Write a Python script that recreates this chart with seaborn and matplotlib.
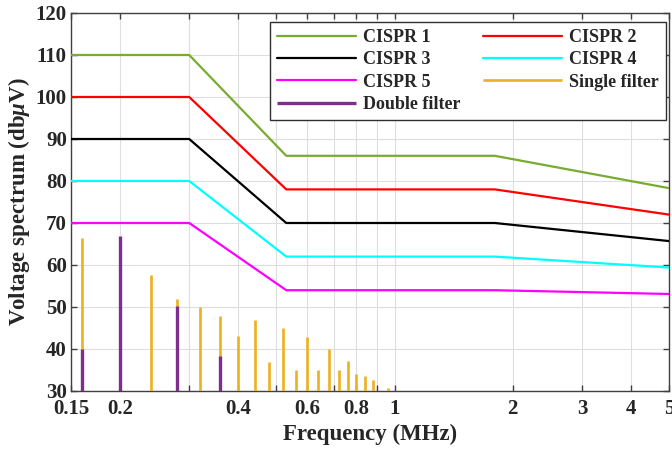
import numpy as np
import pandas as pd
import matplotlib
matplotlib.use("Agg")
import matplotlib.pyplot as plt
import seaborn as sns

# ---------------- data ----------------
limit_freq = [0.15, 0.30, 0.53, 1.8, 5.0]          # MHz
cispr1 = [110, 110, 86, 86, 78.3]
cispr2 = [100, 100, 78, 78, 72.0]
cispr3 = [90, 90, 70, 70, 65.7]
cispr4 = [80, 80, 62, 62, 59.4]
cispr5 = [70, 70, 54, 54, 53.1]

single_freq = [0.16, 0.20, 0.24, 0.28, 0.32, 0.36, 0.40, 0.44, 0.48, 0.52,
               0.56, 0.60, 0.64, 0.68, 0.72, 0.76, 0.80, 0.84, 0.88, 0.96]
single_amp = [66.5, 66.0, 57.6, 51.8, 50.1, 47.9, 43.0, 46.9, 36.8, 45.0,
              34.9, 42.8, 35.1, 40.1, 34.9, 37.1, 34.1, 33.5, 32.7, 30.8]

double_freq = [0.16, 0.20, 0.28, 0.36]
double_amp = [40.0, 66.8, 50.3, 38.4]

xtick_vals = [0.15, 0.2, 0.3, 0.4, 0.5, 0.6, 0.7, 0.8, 0.9, 1, 2, 3, 4, 5]
xtick_labels = ["0.15", "0.2", "", "0.4", "", "0.6", "", "0.8", "", "1", "2", "3", "4", "5"]
ytick_vals = [30, 40, 50, 60, 70, 80, 90, 100, 110, 120]

series_names = ["CISPR 1", "CISPR 2", "CISPR 3", "CISPR 4", "CISPR 5"]
series_vals = [cispr1, cispr2, cispr3, cispr4, cispr5]
series_colors = ["#77AC30", "#FF0000", "#000000", "#00FFFF", "#FF00FF"]
single_color = "#EDB120"
double_color = "#7E2F8E"

# ---------------- style ----------------
sns.set_theme(style="whitegrid")
plt.rcParams["font.family"] = ["Liberation Serif", "DejaVu Serif"]
plt.rcParams["font.weight"] = "bold"
plt.rcParams["axes.labelweight"] = "bold"
plt.rcParams["mathtext.fontset"] = "custom"
plt.rcParams["mathtext.rm"] = "Liberation Serif:bold"
plt.rcParams["mathtext.it"] = "Liberation Serif:italic:bold"
plt.rcParams["mathtext.bf"] = "Liberation Serif:bold"

fig = plt.figure(figsize=(6.72, 4.49), dpi=100)
ax = fig.add_axes([71 / 672, 58 / 449, 598 / 672, 378 / 449])
ax.set_facecolor("white")

df = pd.DataFrame({
    "freq": np.tile(limit_freq, len(series_names)),
    "level": np.concatenate(series_vals),
    "series": np.repeat(series_names, len(limit_freq)),
})

sns.lineplot(data=df, x="freq", y="level", hue="series", hue_order=series_names,
             palette=dict(zip(series_names, series_colors)), linewidth=1.6,
             ax=ax, legend=False, zorder=3, sort=False)

ax.set_xscale("log")
ax.set_xlim(0.15, 5)
ax.set_ylim(30, 120)

ymin = ax.get_ylim()[0]
h_single = ax.vlines(single_freq, ymin, single_amp, colors=single_color,
                     linewidth=1.9, zorder=4, label="Single filter")
h_double = ax.vlines(double_freq, ymin, double_amp, colors=double_color,
                     linewidth=2.4, zorder=5, label="Double filter")

line_handles = ax.get_lines()[:5]
for h, n in zip(line_handles, series_names):
    h.set_label(n)

handles = [line_handles[0], line_handles[2], line_handles[4], h_double,
           line_handles[1], line_handles[3], h_single]
labels = ["CISPR 1", "CISPR 3", "CISPR 5", "Double filter",
          "CISPR 2", "CISPR 4", "Single filter"]
leg = ax.legend(handles, labels, ncol=2, loc="upper right",
                bbox_to_anchor=(1.0, 1 - 6 / 378),
                fontsize=13, handlelength=4.4, handletextpad=0.4, columnspacing=1.2,
                labelspacing=0.3, borderaxespad=0.15, fancybox=False, framealpha=1,
                edgecolor="#303030", borderpad=0.4)
leg.get_frame().set_linewidth(1.0)
for t in leg.get_texts():
    t.set_fontweight("bold")

ax.xaxis.set_minor_locator(matplotlib.ticker.NullLocator())
ax.set_xticks(xtick_vals)
ax.set_xticklabels(xtick_labels)
ax.set_yticks(ytick_vals)
ax.tick_params(axis="both", which="major", direction="in", length=4, width=1,
               color="#404040", labelsize=15, top=True, right=True,
               bottom=True, left=True)
ax.tick_params(axis="x", pad=6)
ax.tick_params(axis="y", pad=3)
for lbl in ax.get_xticklabels() + ax.get_yticklabels():
    lbl.set_fontweight("bold")

ax.grid(True, which="major", color="#dedede", linewidth=0.8)
for s in ax.spines.values():
    s.set_color("#404040")
    s.set_linewidth(1.0)

ax.set_xlabel("Frequency (MHz)", fontsize=16.5, fontweight="bold", labelpad=3)
ax.set_ylabel(r"Voltage spectrum (db$\mu$V)", fontsize=16.5, fontweight="bold", labelpad=3)

fig.savefig("out.png", dpi=100, facecolor="white")
